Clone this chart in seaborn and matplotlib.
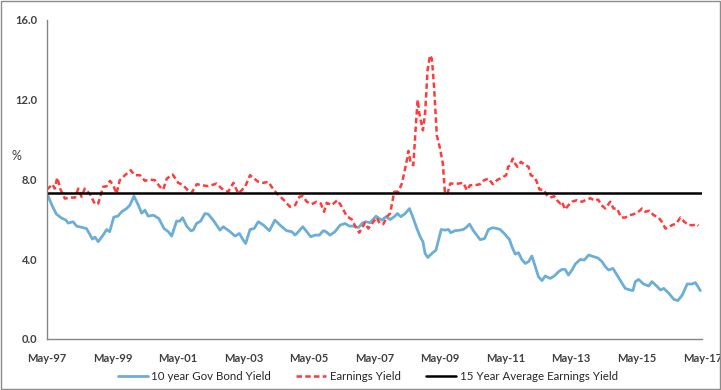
import numpy as np
import pandas as pd
import matplotlib
matplotlib.use("Agg")
import matplotlib.pyplot as plt
from matplotlib.patches import Rectangle
import seaborn as sns

# months since May-97
bond_months = [0, 2, 3.5, 5.4, 7, 7.8, 9.6, 10.9, 14.5, 16.7, 17.6, 18.8, 20.6, 21.9, 23, 24.5, 26, 27.4,
               29.2, 30.4, 31.9, 33.5, 34.7, 35.9, 37.1, 39, 41, 42.9, 44.5, 45.7, 47.5, 48.7, 49.7, 51.2,
               52.7, 53.6, 54.8, 56.3, 57.9, 59.1, 60.9, 63.4, 64.6, 67.1, 68.9, 70.5, 71.9, 72.8, 74.4,
               75.9, 77.4, 79.3, 81.5, 83.5, 85.4, 87.8, 89.7, 90.9, 92.1, 93.7, 95.2, 96.6, 98.2, 99.8,
               101.2, 102.2, 103.7, 105.5, 107.4, 109.2, 110.8, 112.5, 114.1, 115.7, 116.9, 118.4, 120.5,
               122.6, 124.2, 125.7, 127.2, 128.4, 129.6, 131.2, 132.8, 134.2, 135.5, 136.7, 137.7, 138.5,
               139.5, 141, 142.5, 143.4, 144.4, 145.8, 147.1, 147.9, 149.5, 151.3, 152.5, 153.5, 154.8,
               156.2, 158.7, 160.3, 161.7, 163.3, 164.8, 166, 167.5, 169.4, 170.3, 171.5, 172.7, 173.9,
               175.2, 176.4, 177.6, 178.8, 180, 181.3, 182.5, 184.3, 185.8, 187.4, 188.6, 189.8, 191,
               192.3, 193.5, 195.3, 196.8, 198.4, 200.2, 201.8, 203.3, 204.5, 205.7, 207.3, 208.8, 210.3,
               211.8, 213.6, 214.6, 215.5, 216.7, 218.5, 220.4, 221.6, 223.5, 224.7, 225.9, 227.8, 229.6,
               231.1, 232.7, 234.5, 236.3, 237.5, 239.3]
bond_yield = [7.3, 6.65, 6.25, 6.05, 5.95, 5.8, 5.87, 5.65, 5.53, 5.0, 5.1, 4.87, 5.2, 5.48, 5.37, 6.1, 6.15,
              6.37, 6.53, 6.7, 7.15, 6.7, 6.3, 6.45, 6.15, 6.2, 6.03, 5.53, 5.37, 5.15, 5.9, 5.9, 6.07, 5.65,
              5.42, 5.45, 5.78, 5.9, 6.28, 6.25, 5.95, 5.45, 5.62, 5.37, 5.15, 5.28, 4.95, 4.78, 5.48, 5.53,
              5.87, 5.7, 5.42, 5.95, 5.7, 5.42, 5.37, 5.2, 5.37, 5.62, 5.37, 5.12, 5.2, 5.2, 5.42, 5.37, 5.2,
              5.37, 5.7, 5.78, 5.65, 5.65, 5.58, 5.82, 5.87, 5.82, 6.15, 5.95, 6.12, 5.98, 6.12, 6.28, 6.12,
              6.28, 6.53, 6.03, 5.53, 5.12, 4.87, 4.28, 4.08, 4.28, 4.45, 4.95, 5.48, 5.45, 5.48, 5.32, 5.42,
              5.45, 5.48, 5.58, 5.75, 5.42, 4.97, 5.03, 5.48, 5.57, 5.53, 5.48, 5.28, 4.98, 4.62, 4.25, 4.32,
              3.98, 3.78, 3.87, 4.15, 3.65, 3.12, 2.92, 3.15, 3.03, 3.15, 3.37, 3.48, 3.48, 3.2, 3.45, 3.75,
              3.98, 3.95, 4.2, 4.12, 4.05, 3.87, 3.62, 3.45, 3.53, 3.2, 2.87, 2.53, 2.45, 2.42, 2.87, 2.98,
              2.75, 2.65, 2.87, 2.62, 2.45, 2.53, 2.28, 1.98, 1.92, 2.2, 2.75, 2.75, 2.82, 2.42]

earn_months = [0, 1.1, 2, 2.9, 3.8, 5, 6.6, 9, 10.3, 11.5, 12.7, 13.9, 15.8, 17.6, 18.8, 20.6, 21.9, 23.1,
               24.3, 25.5, 26.7, 28.6, 30.7, 32.2, 34.1, 35.9, 37.7, 39.6, 41.4, 42.6, 43.9, 46.1, 48.1,
               49.9, 51.8, 53, 54.9, 56.7, 59.1, 62.2, 64, 66.4, 68.3, 70.1, 72.6, 74.4, 75.9, 77.4, 79.3,
               81.1, 82.3, 84.2, 86.6, 89, 90.9, 92.5, 93.7, 95.2, 97, 98.8, 100.3, 101.5, 102.5, 104.3,
               106.4, 108, 109.8, 111.7, 112.9, 114.4, 116.5, 117.7, 119.3, 120.8, 121.8, 123.2, 124.5,
               125.7, 127.2, 128.7, 130, 131.6, 132.4, 133.3, 134.2, 135.2, 135.8, 136.4, 137.7, 138.5,
               139.4, 140.3, 141, 141.8, 142.8, 144, 145, 145.8, 146.7, 147.7, 149.5, 150.7, 152.5, 153.8,
               155, 156.8, 158.7, 160.1, 161.7, 163.3, 164.8, 166.6, 168.2, 168.9, 169.7, 170.6, 171.5,
               172.3, 173.6, 175.2, 176.4, 177.2, 178.5, 179.4, 180.4, 181.9, 183.1, 184.3, 185.8, 187,
               188, 188.6, 189.8, 191, 192.3, 194.1, 195.9, 197.8, 199, 200.8, 201.9, 203.1, 204.5, 206.3,
               207.5, 208.8, 210.3, 211.8, 213.6, 214.9, 216.1, 217.1, 217.9, 219.1, 220.7, 222.2, 224,
               225.2, 226.5, 227.7, 228.9, 230.5, 232, 233.4, 235, 236.8, 237.8, 238.6]
earn_yield = [7.48, 7.62, 7.75, 7.53, 8.08, 7.48, 7.03, 7.08, 7.08, 7.53, 7.12, 7.53, 7.25, 6.75, 6.78, 7.62,
              7.65, 7.92, 7.7, 7.28, 7.95, 8.2, 8.45, 8.2, 8.2, 7.92, 7.98, 7.95, 7.62, 7.48, 8.03, 8.23, 7.82,
              7.7, 7.42, 7.32, 7.75, 7.7, 7.65, 7.78, 7.53, 7.37, 7.82, 7.28, 7.62, 8.2, 8.03, 7.87, 7.82,
              7.87, 7.62, 7.28, 6.98, 6.62, 6.7, 7.12, 7.15, 6.87, 6.75, 6.87, 6.78, 6.37, 6.82, 6.7, 6.95,
              6.62, 6.15, 5.98, 5.65, 5.32, 5.82, 5.53, 5.82, 6.08, 5.8, 5.75, 6.12, 6.28, 7.37, 7.37, 7.78,
              8.78, 9.42, 8.78, 8.7, 10.87, 11.98, 11.28, 10.45, 11.28, 13.45, 14.2, 14.03, 12.62, 10.2, 9.53,
              8.78, 7.28, 7.28, 7.78, 7.78, 7.78, 7.82, 7.45, 7.7, 7.7, 7.75, 7.95, 8.03, 7.75, 7.95, 8.08,
              8.2, 8.62, 8.7, 9.03, 8.78, 8.62, 8.87, 8.7, 8.62, 8.2, 8.12, 7.87, 7.48, 7.48, 7.2, 7.08, 7.15,
              6.92, 6.78, 6.87, 6.48, 6.7, 6.87, 6.95, 6.87, 6.98, 7.05, 6.92, 6.98, 6.7, 6.53, 6.87, 6.53,
              6.53, 6.08, 6.08, 6.2, 6.25, 6.32, 6.42, 6.53, 6.37, 6.42, 6.2, 6.08, 5.87, 5.53, 5.58, 5.7,
              5.78, 6.08, 5.87, 5.7, 5.7, 5.75, 5.67]

avg_earn_yield = 7.3

tick_months = [0, 24, 48, 72, 96, 120, 144, 168, 192, 216, 240]
tick_labels = ["May-97", "May-99", "May-01", "May-03", "May-05", "May-07",
               "May-09", "May-11", "May-13", "May-15", "May-17"]
y_ticks = [0, 4, 8, 12, 16]

sns.set_style("white")
plt.rcParams['font.family'] = ['Lato', 'DejaVu Sans']

fig = plt.figure(figsize=(7.21, 3.9), dpi=100)
ax = fig.add_axes([0.065, 0.131, 0.909, 0.819])

sns.lineplot(x=bond_months, y=bond_yield, ax=ax, color="#6baed6", linewidth=2,
             label="10 year Gov Bond Yield", errorbar=None)
sns.lineplot(x=earn_months, y=earn_yield, ax=ax, color="#ff3b3b", linewidth=1.8,
             linestyle=(0, (2.2, 1.3)), label="Earnings Yield", errorbar=None)
ax.axhline(avg_earn_yield, color="black", linewidth=1.8, label="15 Year Average Earnings Yield")

ax.set_xlim(0, 240)
ax.set_ylim(0, 16)
ax.set_xticks(tick_months)
ax.set_xticklabels(tick_labels)
ax.set_yticks(y_ticks)
ax.set_yticklabels([f"{v:.1f}" for v in y_ticks])
ax.set_xlabel("")
ax.set_ylabel("")

for s in ["top", "right"]:
    ax.spines[s].set_visible(False)
for s in ["left", "bottom"]:
    ax.spines[s].set_color("#868686")
    ax.spines[s].set_linewidth(1)

ax.tick_params(axis="both", direction="out", length=4, width=1, color="#868686",
               labelsize=8, labelcolor="#404040", pad=3)
ax.tick_params(axis="x", pad=6)
for lbl in ax.get_xticklabels() + ax.get_yticklabels():
    lbl.set_fontweight("bold")

fig.text(12 / 721, 1 - 156 / 390, "%", fontsize=9, color="#404040", ha="left", va="center")

handles, labels = ax.get_legend_handles_labels()
ax.get_legend().remove()
fig.legend(handles, labels, loc="lower center", bbox_to_anchor=(0.51, -0.005), ncol=3, frameon=False,
           fontsize=8.3, handlelength=2.6, columnspacing=2.2, handletextpad=0.3, labelcolor="#262626")

fig.add_artist(Rectangle((0.001, 0.002), 0.997, 0.995, transform=fig.transFigure,
                         fill=False, edgecolor="#8c8c8c", linewidth=1))

fig.savefig("out.png", dpi=100)
